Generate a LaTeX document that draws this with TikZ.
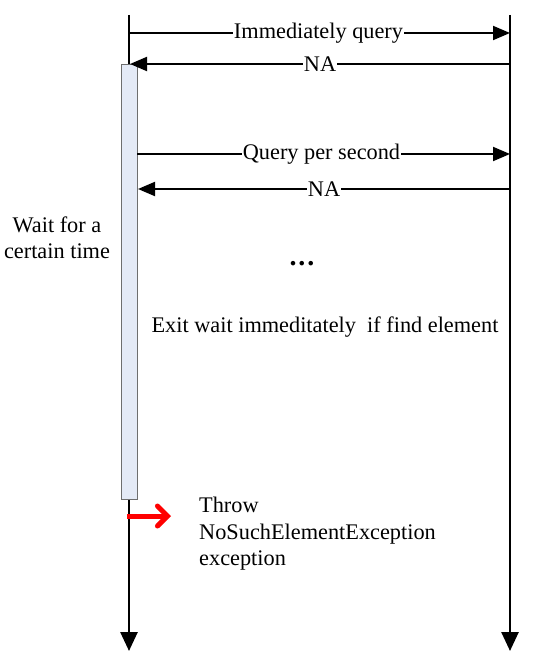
\documentclass[tikz,border=0pt]{standalone}
\usepackage{fontspec}
\setmainfont{Liberation Serif}
\usetikzlibrary{arrows.meta}
\definecolor{actfill}{RGB}{228,234,246}
\definecolor{actdraw}{RGB}{110,110,110}
\begin{document}
\begin{tikzpicture}[x=1pt,y=-1pt,
  lifeline/.style={line width=2.6pt,-{Triangle[length=19pt,width=17pt]}},
  msg/.style={line width=2pt,-{Triangle[length=17pt,width=14pt]}},
  lbl/.style={fill=white,inner sep=1pt,font=\fontsize{22.3}{25}\selectfont},
  txt/.style={font=\fontsize{22.3}{26.5}\selectfont},
  act/.style={draw=actdraw,fill=actfill,line width=1pt}]
\useasboundingbox (0,0) rectangle (552,660);
\coordinate (Ltop) at (129,15);
\coordinate (Lbot) at (129,651);
\coordinate (Rtop) at (510,15);
\coordinate (Rbot) at (510,651);
\draw[lifeline] (Ltop) -- (Lbot);
\draw[lifeline] (Rtop) -- (Rbot);
\node[act,minimum width=16pt,minimum height=435pt,inner sep=0pt,anchor=north] (actv) at (129,64) {};
\coordinate (a1s) at (129,33); \coordinate (a1e) at (510,33);
\draw[msg] (a1s) -- node[lbl,xshift=-1pt] (l1) {Immediately query} (a1e);
\coordinate (a2s) at (510,64); \coordinate (a2e) at (130,64);
\draw[msg] (a2s) -- node[lbl,pos=0.5] (l2) {NA} (a2e);
\coordinate (a3s) at (137,154); \coordinate (a3e) at (510,154);
\draw[msg] (a3s) -- node[lbl,xshift=-2pt] (l3) {Query per second} (a3e);
\coordinate (a4s) at (510,189); \coordinate (a4e) at (138,189);
\draw[msg] (a4s) -- node[lbl] (l4) {NA} (a4e);
\node[txt,align=center] (wait) at (57,238) {Wait for a\\certain time};
\node[font=\fontsize{28}{30}\selectfont\bfseries] (dots) at (302,264) {.\kern2pt.\kern2pt.};
\node[txt] (exit) at (325,327) {Exit wait immeditately\ \ if find element};
\coordinate (rs) at (127,516); \coordinate (re) at (171,516);
\draw[red,line width=5pt,-{Straight Barb[length=10pt,width=20pt,line cap=round]}] (rs) -- (re);
\node[txt,align=left,anchor=north west,inner sep=0pt] (throw) at (199,497) {Throw\\NoSuchElementException\\exception};
\end{tikzpicture}
\end{document}
